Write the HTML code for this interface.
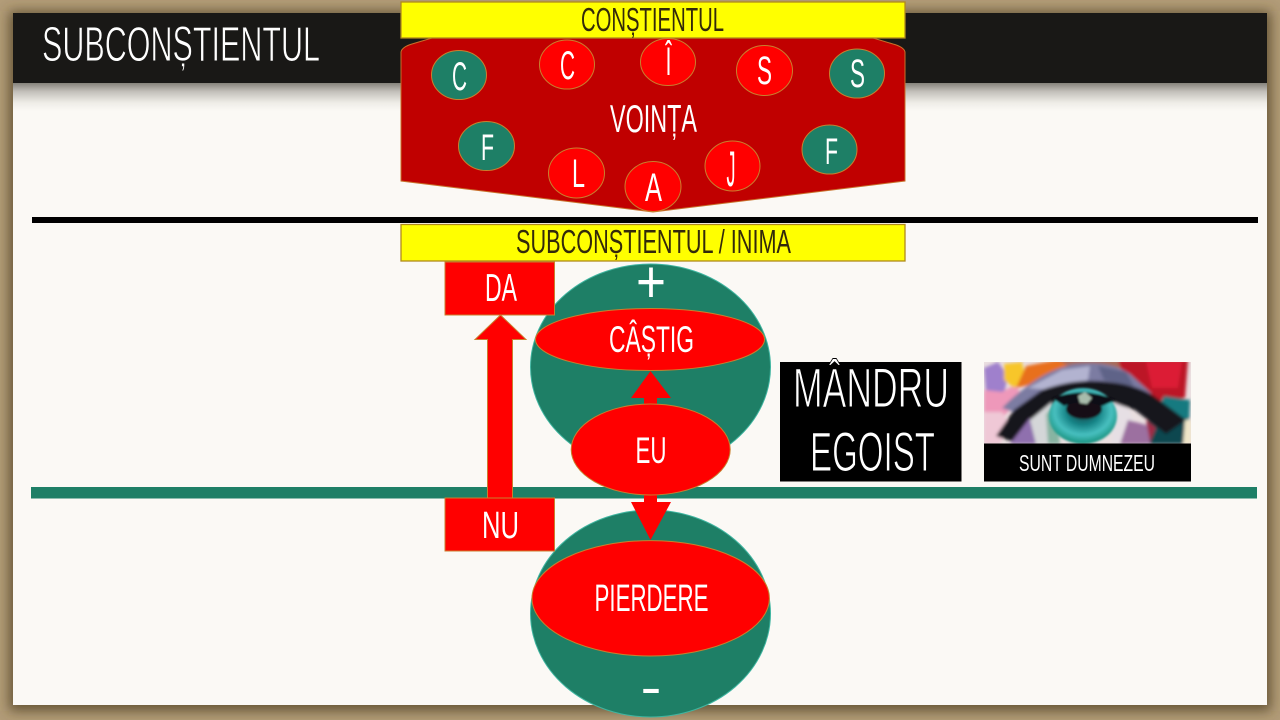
<!DOCTYPE html>
<html><head><meta charset="utf-8"><style>
html,body{margin:0;padding:0;width:1280px;height:720px;overflow:hidden;background:#b29c78}
svg{display:block;position:absolute;left:0;top:0}
text{font-family:"Liberation Sans Narrow","Liberation Sans",sans-serif;fill:#fff;text-anchor:start}
.y{fill:#33290a}
</style></head><body>
<svg width="1280" height="720" viewBox="0 0 1280 720" xmlns="http://www.w3.org/2000/svg">
<defs>
<filter id="s" x="-5%" y="-5%" width="110%" height="110%"><feGaussianBlur stdDeviation="6"/></filter>
<filter id="b2" x="-10%" y="-10%" width="120%" height="120%"><feGaussianBlur stdDeviation="1.600"/></filter>
<filter id="b1" x="-10%" y="-10%" width="120%" height="120%"><feGaussianBlur stdDeviation="1"/></filter>
<linearGradient id="hs" x1="0" y1="0" x2="0" y2="1"><stop offset="0" stop-color="#85827b"/><stop offset=".3" stop-color="#c2bfb9"/><stop offset=".7" stop-color="#eeece7"/><stop offset="1" stop-color="#fbf9f5"/></linearGradient>
<radialGradient id="iris" cx=".5" cy=".42" r=".58"><stop offset="0" stop-color="#0f3b40"/><stop offset=".4" stop-color="#148083"/><stop offset=".72" stop-color="#48c0c0"/><stop offset="1" stop-color="#17907c"/></radialGradient>
<clipPath id="eye"><rect x="984" y="362" width="207" height="82"/></clipPath>
</defs>
<rect x="0" y="0" width="1280" height="720" fill="#b29c78"/>
<rect x="9" y="11" width="1262" height="700" fill="#4a3a1c" opacity=".72" filter="url(#s)"/>
<rect x="13" y="13" width="1254" height="692" fill="#fbf9f5"/>
<rect x="13" y="83" width="1254" height="28" fill="url(#hs)"/>
<rect x="13" y="13" width="1254" height="70" fill="#191816"/>
<text x="42" y="61" font-size="49" textLength="278" lengthAdjust="spacingAndGlyphs" stroke="#191816" stroke-width=".9">SUBCONȘTIENTUL</text>

<rect x="32" y="217" width="1226" height="6" fill="#000"/>
<rect x="31" y="487" width="1226" height="11.500" fill="#1e7f66"/>

<path d="M401 52Q402 47 412 44L432 38H873L893 44Q904 47 905 52V181L653 212L401 181Z" fill="#c00000" stroke="#c8702a" stroke-width="1"/>
<rect x="401" y="2" width="504" height="36" fill="#ff0" stroke="#b08a1c" stroke-width="1.300"/>
<text class="y" x="581" y="31" font-size="33" textLength="143" lengthAdjust="spacingAndGlyphs">CONȘTIENTUL</text>
<rect x="401" y="224.500" width="504" height="36.500" fill="#ff0" stroke="#b08a1c" stroke-width="1.300"/>
<text class="y" x="516" y="253" font-size="33" textLength="275" lengthAdjust="spacingAndGlyphs">SUBCONȘTIENTUL / INIMA</text>
<text x="610" y="132" font-size="39" textLength="87" lengthAdjust="spacingAndGlyphs">VOINȚA</text>

<g stroke="#c8802e" stroke-width="1">
<ellipse cx="459" cy="75" rx="27.500" ry="24.500" fill="#1e7f66"/>
<ellipse cx="567" cy="64.500" rx="27.500" ry="24.500" fill="#f00"/>
<ellipse cx="668" cy="62" rx="27.500" ry="23.500" fill="#f00"/>
<ellipse cx="764.500" cy="70.500" rx="28" ry="25" fill="#f00"/>
<ellipse cx="857" cy="73.500" rx="27.500" ry="24.500" fill="#1e7f66"/>
<ellipse cx="486.500" cy="146" rx="28" ry="24.500" fill="#1e7f66"/>
<ellipse cx="829.500" cy="149.500" rx="27.500" ry="24.500" fill="#1e7f66"/>
<ellipse cx="576.500" cy="173" rx="28" ry="25" fill="#f00"/>
<ellipse cx="653" cy="186.500" rx="28" ry="25" fill="#f00"/>
<ellipse cx="732.500" cy="166" rx="27.500" ry="25" fill="#f00"/>
</g>
<g font-size="40">
<text x="452" y="90" textLength="15" lengthAdjust="spacingAndGlyphs">C</text>
<text x="560" y="79" textLength="15" lengthAdjust="spacingAndGlyphs">C</text>
<text x="665.500" y="75" textLength="6" lengthAdjust="spacingAndGlyphs">Î</text>
<text x="757" y="84" textLength="15" lengthAdjust="spacingAndGlyphs">S</text>
<text x="850" y="87" textLength="15" lengthAdjust="spacingAndGlyphs">S</text>
<text x="481" y="160" font-size="37" textLength="13" lengthAdjust="spacingAndGlyphs">F</text>
<text x="825" y="164" font-size="37" textLength="13" lengthAdjust="spacingAndGlyphs">F</text>
<text x="572" y="187" textLength="13" lengthAdjust="spacingAndGlyphs">L</text>
<text x="645" y="201" textLength="17" lengthAdjust="spacingAndGlyphs">A</text>
<text x="726.500" y="186" font-size="50" textLength="9" lengthAdjust="spacingAndGlyphs">J</text>
</g>

<ellipse cx="650.500" cy="367" rx="120" ry="103" fill="#1e7f66" stroke="#3fb5a0" stroke-width="1"/>
<ellipse cx="650.500" cy="613.500" rx="120" ry="103.500" fill="#1e7f66" stroke="#3fb5a0" stroke-width="1"/>

<text x="636" y="302.500" font-size="60" textLength="30" lengthAdjust="spacingAndGlyphs">+</text>
<text x="640.500" y="705" font-size="52" textLength="21" lengthAdjust="spacingAndGlyphs">-</text>

<rect x="445" y="262" width="109.500" height="53" fill="#f00" stroke="#c8802e" stroke-width="1"/>
<rect x="445" y="498" width="109.500" height="53" fill="#f00" stroke="#c8802e" stroke-width="1"/>
<path d="M500.500 315L526 339.500H512.500V498H487.500V339.500H475Z" fill="#f00" stroke="#c8802e" stroke-width="1"/>
<text x="485" y="301" font-size="39" textLength="32" lengthAdjust="spacingAndGlyphs">DA</text>
<text x="482" y="538" font-size="38" textLength="37" lengthAdjust="spacingAndGlyphs">NU</text>

<ellipse cx="650" cy="339.500" rx="114.500" ry="31" fill="#f00" stroke="#c8802e" stroke-width="1"/>
<text x="609" y="352" font-size="37" textLength="85" lengthAdjust="spacingAndGlyphs">CÂȘTIG</text>

<path d="M650.500 371L671 398H657V410H644V398H631Z" fill="#f00"/>
<path d="M644 490H657V502H671L650.500 540L631 502H644Z" fill="#f00"/>
<ellipse cx="650.700" cy="449.500" rx="79.500" ry="45.500" fill="#f00" stroke="#c8802e" stroke-width="1"/>
<text x="635.500" y="463" font-size="37" textLength="31" lengthAdjust="spacingAndGlyphs">EU</text>

<ellipse cx="650.700" cy="598.300" rx="118.700" ry="57.700" fill="#f00" stroke="#c8802e" stroke-width="1"/>
<text x="594.500" y="611" font-size="38" textLength="114" lengthAdjust="spacingAndGlyphs">PIERDERE</text>

<rect x="780" y="362" width="181.500" height="119.500" fill="#000"/>
<text x="793" y="407" font-size="56" textLength="156" lengthAdjust="spacingAndGlyphs" stroke="#000" stroke-width="1.100">MÂNDRU</text>
<text x="810" y="471" font-size="56" textLength="125" lengthAdjust="spacingAndGlyphs" stroke="#000" stroke-width="1.100">EGOIST</text>

<g clip-path="url(#eye)">
<rect x="984" y="362" width="207" height="82" fill="#eadfe0"/>
<g filter="url(#b2)">
<path d="M984 368L998 362L1008 376L1004 394L986 392Z" fill="#9f80cc"/>
<path d="M984 390L1002 392L1016 384L1022 398L1004 416L984 414Z" fill="#ee98ba"/>
<path d="M984 412L1002 412L1010 425L1000 444H984Z" fill="#efc8d6"/>
<path d="M1004 364L1022 362L1026 380L1014 388L1004 380Z" fill="#f7c62c"/>
<path d="M1016 388L1026 366L1056 360H1082L1062 372L1034 384Z" fill="#e8701f"/>
<path d="M1058 360H1125V368L1072 368Z" fill="#a86a58"/>
<path d="M1118 360H1188L1185 398L1150 402L1124 380Z" fill="#bc1428"/>
<path d="M1146 362H1182L1178 388L1152 388Z" fill="#dc1a34"/>
<path d="M1164 396L1190 400L1189 424L1168 426L1156 412Z" fill="#147a80"/>
<path d="M1148 416L1184 418L1186 444H1148Z" fill="#0e4650"/>
<path d="M1185 420H1191V444H1183Z" fill="#f1e6c8"/>
<path d="M1002 408Q1040 370 1075 364Q1110 360 1130 374L1152 394L1120 392Q1080 384 1050 392L1020 414Z" fill="#7c7ca2"/>
<path d="M1028 388L1062 370L1090 366L1088 380L1050 390Z" fill="#b2b3d0"/>
<path d="M1098 366L1126 372L1134 386L1104 380Z" fill="#5e6488"/>
<path d="M996 436L1014 410L1042 390Q1070 380 1095 381Q1132 382 1154 396L1186 420L1166 434L1135 410Q1100 398 1070 402Q1050 404 1032 420L1014 442Z" fill="#17141a"/>
<path d="M1010 444L1030 418L1038 444Z" fill="#8f6fae"/>
<path d="M1030 420L1052 402L1056 444H1036Z" fill="#d4d6d8"/>
<path d="M1046 414L1056 404L1060 444H1048Z" fill="#88b4a2"/>
<path d="M1112 402L1128 408L1136 426L1128 444H1112Z" fill="#e6dfe4"/>
<path d="M1128 420L1150 426L1150 444H1120Z" fill="#9c70a0"/>
<path d="M1146 420L1156 428L1150 442Z" fill="#a02a44"/>
</g>
<g filter="url(#b1)">
<ellipse cx="1083" cy="416" rx="34" ry="28" fill="url(#iris)"/>
<ellipse cx="1084" cy="409" rx="18" ry="10" fill="#121014"/>
<path d="M1052 398Q1085 386 1116 400L1102 406Q1082 398 1064 406Z" fill="#100e12"/>
<path d="M1078 396L1085 392L1092 398L1087 404L1080 403Z" fill="#a8bcac"/>
</g>
</g>
<rect x="984" y="443.500" width="207" height="38" fill="#000"/>
<text x="1019" y="471" font-size="23" textLength="136" lengthAdjust="spacingAndGlyphs">SUNT DUMNEZEU</text>
</svg>
</body></html>
